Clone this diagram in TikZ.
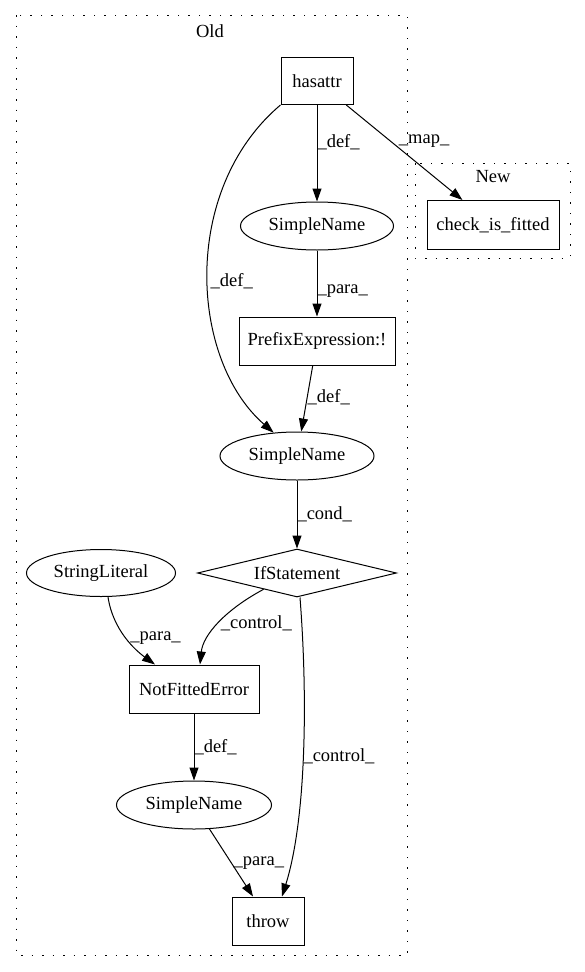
\documentclass[tikz,border=0pt]{standalone}
\usepackage{fontspec}
\setmainfont{Liberation Serif}
\usepackage{tikz}
\usetikzlibrary{shapes.geometric,arrows.meta}
\tikzset{astbox/.style={
    draw=black,
    rectangle,
    inner sep=0pt}}
\tikzset{astname/.style={
    draw=black,
    ellipse,
    inner sep=0pt}}
\tikzset{astcond/.style={
    draw=black,
    diamond,
    aspect=4,
    inner sep=0pt}}
\tikzset{astedge/.style={
    draw=black,
    -{Triangle[length=13pt,width=9pt]}}}
\tikzset{astlabel/.style={
    anchor=west,
    inner sep=0pt}}
\tikzset{cluster/.style={
    draw=black,
    dash pattern=on 1.5pt off 9pt}}

\begin{document}
\begin{tikzpicture}[x=1pt,y=-1pt,line width=1pt,font=\fontsize{18.5}{21}\selectfont]
\useasboundingbox (0,0) rectangle (585,972);
	\coordinate (H) at (317,81);
\coordinate (S1) at (317,226);
\coordinate (C) at (493,225);
\coordinate (P) at (317,341);
\coordinate (S2) at (297,456);
\coordinate (I) at (297,573);
\coordinate (L) at (101,573);
\coordinate (N) at (194,689);
\coordinate (S3) at (194,805);
\coordinate (T) at (268,921);

\path[cluster] (16,15) rectangle (407,955);
\node (old) at (210,31) {Old};
\path[cluster] (415,163) rectangle (570,258);
\node (new) at (493,177) {New};

	\node[astbox,minimum width=72pt,minimum height=47pt] (hasattr) at (H) {hasattr};
	\node[astname,minimum width=153pt,minimum height=48pt] (sn1) at (S1) {SimpleName};
	\node[astbox,minimum width=132pt,minimum height=49pt] (check) at (C) {check\_is\_fitted};
	\node[astbox,minimum width=156pt,minimum height=48pt] (prefix) at (P) {PrefixExpression:!};
	\node[astname,minimum width=154pt,minimum height=48pt] (sn2) at (S2) {SimpleName};
	\node[astcond,minimum width=199pt,minimum height=48pt] (ifst) at (I) {IfStatement};
	\node[astname,minimum width=149pt,minimum height=47pt] (strlit) at (L) {StringLiteral};
	\node[astbox,minimum width=130pt,minimum height=48pt] (nfe) at (N) {NotFittedError};
	\node[astname,minimum width=155pt,minimum height=48pt] (sn3) at (S3) {SimpleName};
	\node[astbox,minimum width=72pt,minimum height=48pt] (throw) at (T) {throw};

	\draw[astedge] (hasattr) -- node[astlabel,pos=0.39] {\_def\_} (sn1);
	\draw[astedge] (hasattr) -- node[astlabel,pos=0.38,xshift=8pt] {\_map\_} (check);
	\draw[astedge] (hasattr.south west) .. controls (180,190) and (190,360) .. node[astlabel,pos=0.52,xshift=2pt] {\_def\_} (sn2.135);
	\draw[astedge] (sn1) -- node[astlabel,pos=0.62] {\_para\_} (prefix);
	\draw[astedge] (prefix) -- node[astlabel,pos=0.48] {\_def\_} (sn2);
	\draw[astedge] (sn2) -- node[astlabel,pos=0.5] {\_cond\_} (ifst);
	\draw[astedge] ([xshift=7pt]strlit.south) .. controls (113,630) and (135,650) .. node[astlabel,pos=0.5,xshift=4pt] {\_para\_} ([xshift=-39pt]nfe.north);
	\draw[astedge] (ifst.206) .. controls (225,610) and (203,635) .. node[astlabel,pos=0.5,xshift=2pt] {\_control\_} ([xshift=6pt]nfe.north);
	\draw[astedge] ([xshift=3pt]ifst.south) .. controls (308,700) and (306,820) .. node[astlabel,pos=0.5] {\_control\_} ([xshift=14pt]throw.north);
	\draw[astedge] (nfe) -- node[astlabel,pos=0.5] {\_def\_} (sn3);
	\draw[astedge] (sn3) -- node[astlabel,pos=0.5,xshift=2pt] {\_para\_} ([xshift=-15pt]throw.north);
\end{tikzpicture}
\end{document}
